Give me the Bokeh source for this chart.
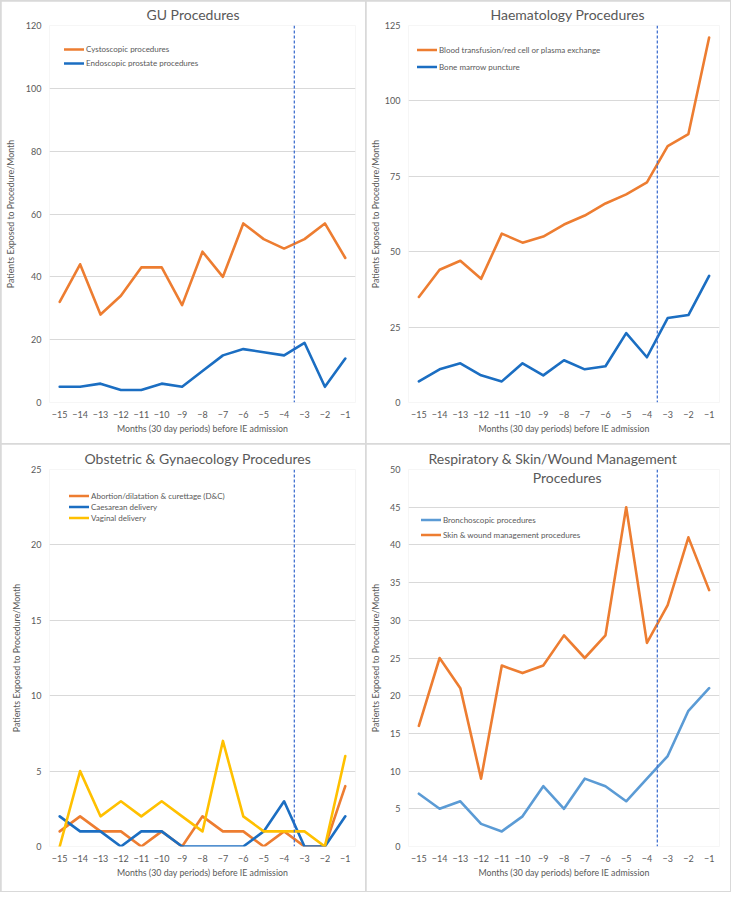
from bokeh.plotting import figure
from bokeh.layouts import row, column
from bokeh.models import Span, Label, Legend, LegendItem, FixedTicker, Range1d
from bokeh.embed import file_html
from bokeh.resources import INLINE

# ---------------- data ----------------
months = [-15, -14, -13, -12, -11, -10, -9, -8, -7, -6, -5, -4, -3, -2, -1]

gu_cystoscopic = [32, 44, 28, 34, 43, 43, 31, 48, 40, 57, 52, 49, 52, 57, 46]
gu_endoscopic_prostate = [5, 5, 6, 4, 4, 6, 5, 10, 15, 17, 16, 15, 19, 5, 14]

haem_blood_transfusion = [35, 44, 47, 41, 56, 53, 55, 59, 62, 66, 69, 73, 85, 89, 121]
haem_bone_marrow = [7, 11, 13, 9, 7, 13, 9, 14, 11, 12, 23, 15, 28, 29, 42]

obs_abortion_dc = [1, 2, 1, 1, 0, 1, 0, 2, 1, 1, 0, 1, 0, 0, 4]
obs_caesarean = [2, 1, 1, 0, 1, 1, 0, 0, 0, 0, 1, 3, 0, 0, 2]
obs_vaginal = [0, 5, 2, 3, 2, 3, 2, 1, 7, 2, 1, 1, 1, 0, 6]

resp_bronchoscopic = [7, 5, 6, 3, 2, 4, 8, 5, 9, 8, 6, 9, 12, 18, 21]
resp_skin_wound = [16, 25, 21, 9, 24, 23, 24, 28, 25, 28, 45, 27, 32, 41, 34]

event_marker = -3.5

x_title = "Months (30 day periods) before IE admission"
y_title = "Patients Exposed to Procedure/Month"

# ---------------- style ----------------
FONT = "Lato"
TXT = "#595959"
GRID = "#D9D9D9"
ORANGE = "#ED7D31"
BLUE = "#1B6EC2"
LBLUE = "#5B9BD5"
YELLOW = "#FFC000"
DASH = "#3366CC"


def make_panel(w, h, borders, y_end, y_step, title, title_off, series, leg,
               ylab_standoff, second_line=None):
    left, right, top, bottom = borders
    p = figure(width=w, height=h, x_range=Range1d(-15.5, -0.5),
               y_range=Range1d(0, y_end), output_backend="svg",
               toolbar_location=None, min_border_left=left,
               min_border_right=right, min_border_top=top,
               min_border_bottom=bottom)
    p.outline_line_color = None
    p.background_fill_color = "white"
    p.border_fill_color = "white"
    p.xgrid.grid_line_color = None
    p.ygrid.grid_line_color = GRID
    p.ygrid.grid_line_width = 1

    p.title.text = title
    p.title.align = "left"
    p.title.offset = title_off
    p.title.standoff = 5
    p.title.text_font = FONT
    p.title.text_font_size = "14px"
    p.title.text_font_style = "normal"
    p.title.text_color = TXT

    p.xaxis.ticker = FixedTicker(ticks=months)
    p.yaxis.ticker = FixedTicker(ticks=list(range(0, y_end + 1, y_step)))
    for ax in (p.xaxis[0], p.yaxis[0]):
        ax.axis_line_color = None
        ax.major_tick_line_color = None
        ax.minor_tick_line_color = None
        ax.major_tick_out = 0
        ax.major_tick_in = 0
        ax.minor_tick_out = 0
        ax.minor_tick_in = 0
        ax.major_label_text_font = FONT
        ax.major_label_text_font_size = "9px"
        ax.major_label_text_color = TXT
        ax.axis_label_text_font = FONT
        ax.axis_label_text_font_style = "normal"
        ax.axis_label_text_color = TXT
        ax.axis_label_text_font_size = "8.8px"
    p.xaxis.axis_label = x_title
    p.xaxis.major_label_standoff = 8
    p.xaxis.axis_label_standoff = 2
    p.yaxis.axis_label = y_title
    p.yaxis.major_label_standoff = 8
    p.yaxis.axis_label_standoff = ylab_standoff

    items = []
    for name, vals, color in series:
        r = p.line(months, vals, line_color=color, line_width=2.6,
                   line_join="round", line_cap="round")
        items.append(LegendItem(label=name, renderers=[r]))

    p.add_layout(Span(location=event_marker, dimension="height",
                      line_color=DASH, line_width=1.2, line_dash="3 2"))

    if second_line is not None:
        text, tx, off = second_line
        p.add_layout(Label(x=tx, y=y_end, y_offset=off, text=text,
                           text_align="center", text_baseline="middle",
                           text_font=FONT, text_font_size="14px",
                           text_color=TXT))

    frame_h = h - top - bottom
    lx, first_c, rowh = leg
    n = len(items)
    ly = int(round(frame_h - (first_c - rowh / 2) - n * rowh))
    legend = Legend(items=items, location=(lx, ly), padding=0, margin=0,
                    spacing=0, glyph_width=20, glyph_height=rowh,
                    label_height=rowh, label_standoff=2,
                    label_text_font=FONT, label_text_font_size="8px",
                    label_text_color=TXT, background_fill_alpha=0,
                    border_line_alpha=0)
    p.add_layout(legend)
    return p


p1 = make_panel(364, 442, (45, 4, 24, 41), 120, 20,
                "GU Procedures", 97,
                [("Cystoscopic procedures", gu_cystoscopic, ORANGE),
                 ("Endoscopic prostate procedures", gu_endoscopic_prostate, BLUE)],
                (15, 23.5, 14), 7)

p2 = make_panel(364, 442, (38, 11, 24, 41), 125, 25,
                "Haematology Procedures", 82,
                [("Blood transfusion/red cell or plasma exchange", haem_blood_transfusion, ORANGE),
                 ("Bone marrow puncture", haem_bone_marrow, BLUE)],
                (9, 24.5, 17), 1)

p3 = make_panel(364, 447, (38, 10, 25, 45), 25, 5,
                "Obstetric & Gynaecology Procedures", 35,
                [("Abortion/dilatation & curettage (D&C)", obs_abortion_dc, ORANGE),
                 ("Caesarean delivery", obs_caesarean, BLUE),
                 ("Vaginal delivery", obs_vaginal, YELLOW)],
                (20, 26.4, 11), 6)

p4 = make_panel(364, 447, (38, 11, 25, 45), 50, 5,
                "Respiratory & Skin/Wound Management", 20,
                [("Bronchoscopic procedures", resp_bronchoscopic, LBLUE),
                 ("Skin & wound management procedures", resp_skin_wound, ORANGE)],
                (13, 50, 15), 6,
                second_line=("Procedures", -7.85, -8))

col1 = column(p1, p3, spacing=1)
col2 = column(p2, p4, spacing=1)
layout = row(col1, col2, spacing=1)
layout.styles = {"background-color": GRID, "border": "1px solid " + GRID}

open("out.html", "w").write(file_html(layout, INLINE))
